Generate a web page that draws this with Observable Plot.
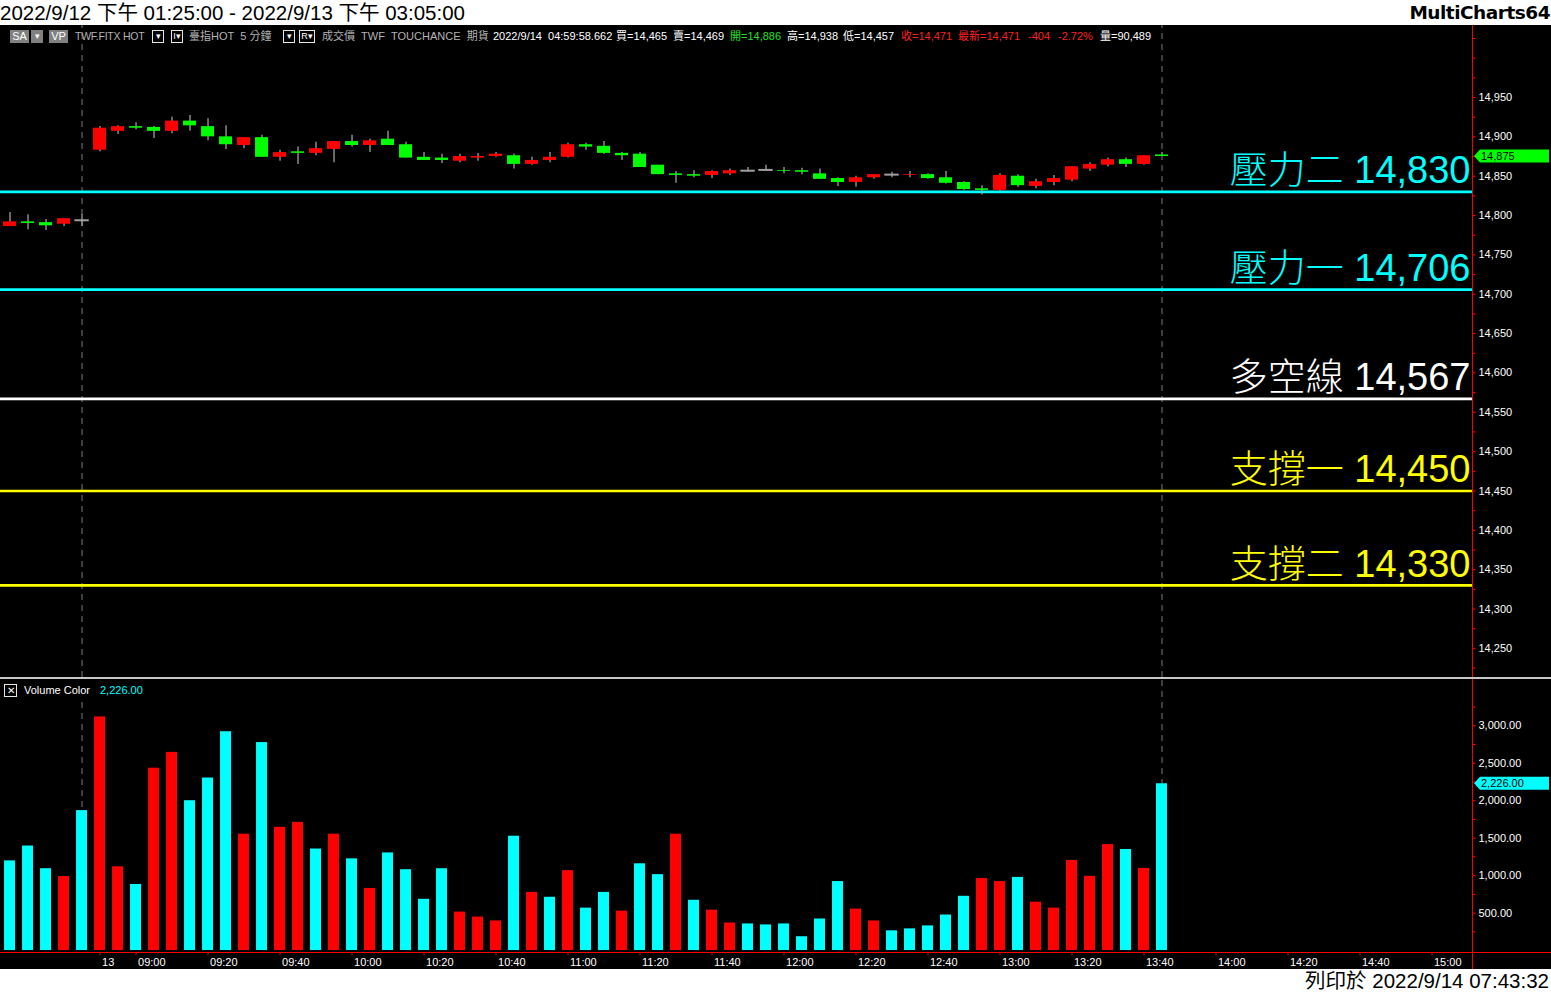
<!DOCTYPE html>
<html lang="zh-Hant">
<head>
<meta charset="utf-8">
<title>臺指HOT 5 分鐘</title>
<script src="https://cdn.jsdelivr.net/npm/d3@7"></script>
<script src="https://cdn.jsdelivr.net/npm/@observablehq/plot@0.6"></script>
<style>
  html, body { margin: 0; padding: 0; background: #fff; }
  body { width: 1551px; height: 993px; overflow: hidden; font-family: "Liberation Sans", Arial, "Noto Sans CJK TC", sans-serif; }
  #top { position: relative; height: 25px; background: #fff; }
  #title { position: absolute; left: 0; top: 0; height: 25px; line-height: 25px; font-size: 20.5px; color: #000; white-space: nowrap; }
  #brand { position: absolute; right: 1px; top: 2px; line-height: 25px; font: bold 18.5px "DejaVu Sans", sans-serif; letter-spacing: -0.5px; color: #000; }
  #chart { position: relative; width: 1551px; height: 944px; background: #000; }
  #chart svg { display: block; }
  #sep { height: 2px; background: #c8c8c8; }
  #bottom { position: relative; height: 24px; background: #fff; }
  #caption { position: absolute; right: 2px; top: 0; line-height: 24px; font-size: 20.5px; color: #000; white-space: nowrap; }
  .h { position: absolute; top: 5px; height: 13px; line-height: 13px; font-size: 11px; white-space: nowrap; color: #fff; z-index: 2; }
  .g { color: #b4b4b4; }
  .tight { font-size: 10.5px; letter-spacing: -0.25px; }
  .btn { background: #808080; color: #fff; text-align: center; }
  .box { border: 1px solid #e6e6e6; box-sizing: border-box; text-align: center; font-size: 9px; line-height: 11px; }
  .red { color: #ff2020; }
  .grn { color: #20e020; }
</style>
</head>
<body>
<div id="top">
  <div id="title">2022/9/12 下午 01:25:00 - 2022/9/13 下午 03:05:00</div>
  <div id="brand">MultiCharts64</div>
</div>
<div id="chart">
  <div class="h btn" style="left:10px;width:19px;">SA</div>
  <div class="h btn" style="left:31px;width:12px;font-size:9px;">▾</div>
  <div class="h btn" style="left:49px;width:19px;">VP</div>
  <div class="h g tight" style="left:75px;">TWF.FITX HOT</div>
  <div class="h box" style="left:152px;width:12px;">▾</div>
  <div class="h box" style="left:171px;width:12px;">I▾</div>
  <div class="h g" style="left:189px;">臺指HOT&nbsp;&nbsp;5 分鐘</div>
  <div class="h box" style="left:283px;width:12px;">▾</div>
  <div class="h box" style="left:299px;width:16px;">R▾</div>
  <div class="h g" style="left:322px;">成交價&nbsp;&nbsp;TWF&nbsp;&nbsp;TOUCHANCE&nbsp;&nbsp;期貨</div>
  <div class="h" style="left:493px;">2022/9/14&nbsp;&nbsp;04:59:58.662</div>
  <div class="h" style="left:616px;">買=14,465</div>
  <div class="h" style="left:673px;">賣=14,469</div>
  <div class="h grn" style="left:730px;">開=14,886</div>
  <div class="h" style="left:787px;">高=14,938</div>
  <div class="h" style="left:843px;">低=14,457</div>
  <div class="h red" style="left:901px;">收=14,471</div>
  <div class="h red" style="left:958px;">最新=14,471</div>
  <div class="h red" style="left:1028px;">-404</div>
  <div class="h red" style="left:1058px;">-2.72%</div>
  <div class="h" style="left:1100px;">量=90,489</div>
  <div id="pricePanel"></div>
  <div id="sep"></div>
  <div id="volPanel"></div>
  <div class="h box" style="left:4px;top:659px;width:13px;height:13px;font-size:10px;">✕</div>
  <div class="h" style="left:24px;top:659px;">Volume Color</div>
  <div class="h" style="left:100px;top:659px;color:#00ffff;">2,226.00</div>
</div>
<div id="bottom"><div id="caption">列印於 2022/9/14 07:43:32</div></div>

<script>
// ---------------- DATA ----------------
// 5-minute bars: 2022/9/12 afternoon (13:25–13:45) followed by 2022/9/13 day session (08:50–13:45)
const prevSessionTimes = ["13:25", "13:30", "13:35", "13:40", "13:45"];
const daySessionFirst = "08:50";

const open = [14786, 14792, 14791, 14789, 14794,
  14883, 14907, 14913, 14912, 14907, 14920, 14913, 14900, 14889, 14899,
  14874, 14881, 14879, 14884, 14894, 14889, 14897, 14890, 14874, 14873,
  14869, 14873, 14875, 14876, 14865, 14870, 14874, 14890, 14888, 14879,
  14878, 14864, 14853, 14852, 14851, 14853, 14857, 14858, 14857, 14857,
  14853, 14847, 14842, 14848, 14852, 14851, 14852, 14848, 14842, 14834,
  14832, 14850, 14837, 14842, 14845, 14859, 14864, 14871, 14865, 14877];
const high = [14804, 14801, 14795, 14796, 14801,
  14913, 14914, 14918, 14913, 14925, 14927, 14923, 14914, 14899, 14902,
  14883, 14887, 14893, 14894, 14902, 14897, 14907, 14893, 14880, 14878,
  14878, 14879, 14880, 14878, 14874, 14880, 14892, 14892, 14894, 14880,
  14880, 14864, 14856, 14857, 14857, 14859, 14861, 14864, 14861, 14860,
  14859, 14848, 14850, 14852, 14855, 14856, 14853, 14856, 14843, 14838,
  14853, 14852, 14846, 14851, 14862, 14867, 14873, 14873, 14876, 14880];
const low = [14786, 14782, 14781, 14786, 14786,
  14881, 14903, 14909, 14898, 14904, 14907, 14895, 14884, 14885, 14874,
  14869, 14865, 14876, 14867, 14887, 14880, 14889, 14873, 14870, 14866,
  14867, 14869, 14874, 14859, 14864, 14867, 14873, 14883, 14878, 14870,
  14861, 14852, 14841, 14848, 14847, 14851, 14855, 14856, 14853, 14852,
  14846, 14837, 14836, 14846, 14848, 14848, 14846, 14840, 14832, 14826,
  14831, 14836, 14834, 14838, 14843, 14856, 14862, 14861, 14864, 14875];
const close = [14792, 14790, 14787, 14796, 14794,
  14911, 14913, 14911, 14907, 14920, 14914, 14900, 14890, 14899, 14874,
  14880, 14879, 14885, 14894, 14889, 14895, 14889, 14873, 14870, 14870,
  14875, 14875, 14878, 14865, 14870, 14874, 14890, 14887, 14879, 14876,
  14861, 14852, 14851, 14850, 14856, 14857, 14857, 14858, 14856, 14855,
  14846, 14842, 14848, 14852, 14852, 14852, 14847, 14841, 14833, 14832,
  14851, 14838, 14843, 14847, 14862, 14865, 14871, 14865, 14876, 14875];
const volume = [1197, 1395, 1092, 987, 1868,
  3118, 1118, 882, 2434, 2645, 2000, 2303, 2921, 1553, 2776,
  1645, 1711, 1355, 1553, 1224, 829, 1303, 1079, 684, 1092,
  513, 447, 395, 1526, 776, 711, 1066, 566, 776, 526,
  1158, 1013, 1553, 671, 539, 368, 355, 342, 355, 184,
  421, 921, 553, 395, 263, 289, 329, 474, 724, 961,
  921, 976, 645, 566, 1203, 991, 1414, 1349, 1096, 2226];
// Volume Color indicator tone of each bar: "R" red, "C" cyan
const volTone = ["C", "C", "C", "R", "C",
  "R", "R", "C", "R", "R", "C", "C", "C", "R", "C",
  "R", "R", "C", "R", "C", "R", "C", "C", "C", "C",
  "R", "R", "R", "C", "R", "C", "R", "C", "C", "R",
  "C", "C", "R", "C", "R", "R", "C", "C", "C", "C",
  "C", "C", "R", "R", "C", "C", "C", "C", "C", "R",
  "R", "C", "R", "R", "R", "R", "R", "C", "R", "C"];

// horizontal support / resistance levels
const levelNames = ["壓力二", "壓力一", "多空線", "支撐一", "支撐二"];
const levelValues = [14830, 14706, 14567, 14450, 14330];
const levelColors = ["#00ffff", "#00ffff", "#ffffff", "#ffff00", "#ffff00"];

// axis ticks
const timeTickLabels = ["13", "09:00", "09:20", "09:40", "10:00", "10:20", "10:40", "11:00", "11:20", "11:40",
  "12:00", "12:20", "12:40", "13:00", "13:20", "13:40", "14:00", "14:20", "14:40", "15:00"];
const timeTickTimes = ["08:50", "09:00", "09:20", "09:40", "10:00", "10:20", "10:40", "11:00", "11:20", "11:40",
  "12:00", "12:20", "12:40", "13:00", "13:20", "13:40", "14:00", "14:20", "14:40", "15:00"];
const priceTickLabels = [14250, 14300, 14350, 14400, 14450, 14500, 14550, 14600, 14650, 14700, 14750, 14800, 14850, 14900, 14950];
const volumeTickLabels = [500, 1000, 1500, 2000, 2500, 3000];

// ---------------- LAYOUT CONSTANTS (scale domains) ----------------
const X_LEFT = -0.53, X_AXIS = 81.25, X_RIGHT = 85.64;   // in bar-slot units
const P_BOTTOM = 14213, P_TOP = 15041.5;
const V_BOTTOM = -26.3, V_TOP = 3618;
const RED = "#ff0000", GREEN = "#00ff00", CYAN = "#00ffff", WICK = "#a0a0a0", DASH = "#7a7a7a";
const FONT = '"Liberation Sans", Arial, "Noto Sans CJK TC", sans-serif';

// ---------------- DERIVED TABLES ----------------
const toMin = t => +t.slice(0, 2) * 60 + +t.slice(3, 5);
const slotOf = t => prevSessionTimes.length + (toMin(t) - toMin(daySessionFirst)) / 5;
const bars = open.map((o, i) => ({i, open: o, high: high[i], low: low[i], close: close[i], volume: volume[i], tone: volTone[i]}));
const bodies = bars.filter(d => d.open !== d.close);
const dojis = bars.filter(d => d.open === d.close);
const sessionEnds = [prevSessionTimes.length - 1, bars.length - 1];
const levels = levelNames.map((name, k) => ({name, value: levelValues[k], color: levelColors[k]}));
const timeTicks = timeTickLabels.map((label, k) => ({label, slot: slotOf(timeTickTimes[k])}));
const fmtP = d3.format(",");
const fmtV = d3.format(",.2f");

// ---------------- PRICE PANEL ----------------
const price = Plot.plot({
  width: 1551, height: 652,
  marginTop: 0, marginBottom: 0, marginLeft: 0, marginRight: 0,
  style: {background: "#000", color: "#fff", fontFamily: FONT, fontSize: "11px"},
  x: {type: "linear", domain: [X_LEFT, X_RIGHT], axis: null},
  y: {type: "linear", domain: [P_BOTTOM, P_TOP], axis: null},
  marks: [
    Plot.ruleX(sessionEnds, {x: d => d, y1: P_BOTTOM, y2: P_TOP, stroke: DASH, strokeDasharray: "6,5"}),
    Plot.ruleY(levels, {y: "value", x1: X_LEFT, x2: X_AXIS, stroke: "color", strokeWidth: 2.7}),
    Plot.text(levels, {
      y: "value", x: X_AXIS, text: d => `${d.name} ${fmtP(d.value)}`, fill: "color",
      textAnchor: "end", lineAnchor: "bottom", dx: -2, dy: -8.5, fontSize: 38, fontWeight: 300
    }),
    Plot.ruleX(bars, {x: "i", y1: "low", y2: "high", stroke: WICK, strokeWidth: 1.3}),
    Plot.rect(bodies, {
      x1: d => d.i - 0.36, x2: d => d.i + 0.36, y1: "open", y2: "close",
      fill: d => d.close > d.open ? RED : GREEN
    }),
    Plot.ruleY(dojis, {y: "close", x1: d => d.i - 0.4, x2: d => d.i + 0.4, stroke: WICK, strokeWidth: 2}),
    Plot.ruleX([X_AXIS], {y1: P_BOTTOM, y2: P_TOP, stroke: RED, strokeWidth: 1}),
    Plot.ruleY(d3.range(14225, 15040, 25), {y: d => d, x1: X_AXIS, x2: X_AXIS + 0.2, stroke: RED}),
    Plot.text(priceTickLabels, {y: d => d, x: X_AXIS, dx: 6, textAnchor: "start", text: d => fmtP(d), fill: "#fff", fontSize: 11})
  ]
});
document.getElementById("pricePanel").append(price);

// marker tag at the right axis, positioned through the plot's own scales
function addTag(plot, value, label, color) {
  const x0 = plot.scale("x").apply(X_AXIS), yc = plot.scale("y").apply(value);
  const svg = d3.select(plot);
  svg.append("polygon")
    .attr("points", [[x0 + 2, yc], [x0 + 8, yc - 6.5], [x0 + 77, yc - 6.5], [x0 + 77, yc + 6.5], [x0 + 8, yc + 6.5]].join(" "))
    .attr("fill", color);
  svg.append("text").attr("x", x0 + 9).attr("y", yc).attr("dy", "0.35em")
    .attr("text-anchor", "start").attr("fill", "#000").attr("font-size", 11).attr("font-family", FONT)
    .text(label);
}
addTag(price, bars[bars.length - 1].close, fmtP(bars[bars.length - 1].close), GREEN);

// ---------------- VOLUME PANEL ----------------
const vol = Plot.plot({
  width: 1551, height: 290,
  marginTop: 0, marginBottom: 17, marginLeft: 0, marginRight: 0,
  style: {background: "#000", color: "#fff", fontFamily: FONT, fontSize: "11px"},
  x: {type: "linear", domain: [X_LEFT, X_RIGHT], axis: null},
  y: {type: "linear", domain: [V_BOTTOM, V_TOP], axis: null},
  marks: [
    Plot.ruleX(sessionEnds, {x: d => d, y1: 0, y2: (d, k) => k === 0 ? 3340 : V_TOP, stroke: DASH, strokeDasharray: "6,5"}),
    Plot.rect(bars, {
      x1: d => d.i - 0.305, x2: d => d.i + 0.305, y1: 0, y2: "volume",
      fill: d => d.tone === "R" ? RED : CYAN, clip: true
    }),
    Plot.ruleY([V_BOTTOM], {x1: X_LEFT, x2: X_RIGHT, stroke: RED, strokeWidth: 1.2}),
    Plot.ruleX([X_AXIS], {y1: V_BOTTOM - 260, y2: V_TOP, stroke: RED, strokeWidth: 1}),
    Plot.ruleY(d3.range(250, 3500, 250), {y: d => d, x1: X_AXIS, x2: X_AXIS + 0.2, stroke: RED}),
    Plot.text(volumeTickLabels, {y: d => d, x: X_AXIS, dx: 6, textAnchor: "start", text: d => fmtV(d), fill: "#fff", fontSize: 11}),
    Plot.ruleX(timeTicks, {x: "slot", y1: V_BOTTOM, y2: V_BOTTOM - 45, stroke: RED}),
    Plot.text(timeTicks, {x: "slot", y: V_BOTTOM, dx: 2, dy: 10, textAnchor: "start", text: "label", fill: "#fff", fontSize: 11})
  ]
});
document.getElementById("volPanel").append(vol);
addTag(vol, bars[bars.length - 1].volume, fmtV(bars[bars.length - 1].volume), CYAN);
</script>
</body>
</html>
